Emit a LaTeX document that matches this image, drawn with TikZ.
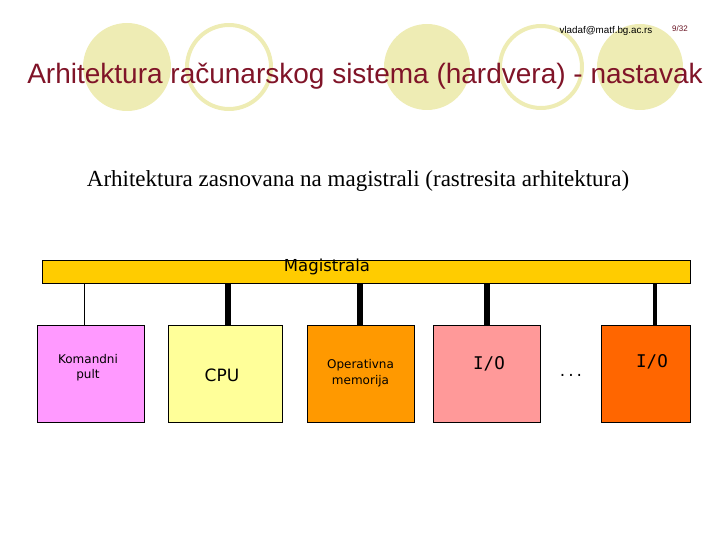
\documentclass[tikz,border=0pt]{standalone}
\usepackage{fontspec}
\setmainfont{Liberation Serif}
\setsansfont{Liberation Sans}
\newfontfamily\verdana{DejaVu Sans}
\newfontfamily\verdanamono{DejaVu Sans Mono}

\definecolor{dotyellow}{RGB}{238,236,180}
\definecolor{titlered}{RGB}{128,20,40}
\definecolor{busyellow}{RGB}{255,204,0}
\definecolor{pultpink}{RGB}{255,153,255}
\definecolor{cpuyellow}{RGB}{255,255,153}
\definecolor{memorange}{RGB}{255,153,0}
\definecolor{iorose}{RGB}{255,153,153}
\definecolor{iored}{RGB}{255,102,0}

\tikzset{
  unit/.style={draw=black,line width=0.8pt,minimum height=97pt,inner sep=0pt,font=\verdana},
  thinlink/.style={draw=black,line width=1pt},
  thicklink/.style={draw=black,line width=6pt},
}

\begin{document}
\begin{tikzpicture}
  [x=1pt,y=-1pt]
  \useasboundingbox (0,0) rectangle (720,540);

  % background dots
  \fill[dotyellow] (127,67) circle (44);
  \draw[dotyellow,line width=4pt] (229,67) circle (42);
  \fill[dotyellow] (427,67) circle (43);
  \draw[dotyellow,line width=4pt] (541,67) circle (41);
  \fill[dotyellow] (640,67) circle (43);

  \node (mail) at (606,31) {\sffamily\fontsize{9.8}{11}\selectfont vladaf@matf.bg.ac.rs};
  \node (page) at (680,29) {\sffamily\fontsize{8}{9}\selectfont\color{titlered!80!black}9/32};

  \node (title) at (365,76) {\sffamily\fontsize{28}{32}\selectfont\color{titlered}Arhitektura računarskog sistema (hardvera) - nastavak};
  \node (sub) at (358,181) {\fontsize{23}{26}\selectfont Arhitektura zasnovana na magistrali (rastresita arhitektura)};

  % bus
  \node[draw=black,line width=0.8pt,fill=busyellow,minimum width=648pt,minimum height=23pt,inner sep=0pt] (bus) at (366,271.5) {};
  \node[font=\verdana\fontsize{16.5}{18}\selectfont] (magtext) at (327,267) {Magistrala};

  % units
  \node[unit,fill=pultpink,minimum width=107pt] (pult) at (90.5,373.5) {};
  \node[font=\verdana\fontsize{12}{15}\selectfont,align=center] (pulttext) at (88,368) {Komandni\\pult};
  \node[unit,fill=cpuyellow,minimum width=114pt] (cpu) at (225,373.5) {};
  \node[font=\verdana\fontsize{17}{19}\selectfont] (cputext) at (222,375) {CPU};
  \node[unit,fill=memorange,minimum width=107pt,font=\verdana\fontsize{12}{16}\selectfont,align=center] (mem) at (360.5,373.5) {Operativna\\memorija};
  \node[unit,fill=iorose,minimum width=107pt] (io1) at (486.5,373.5) {};
  \node[font=\verdanamono\fontsize{17.5}{19}\selectfont] (io1text) at (489,364) {I/O};
  \node[font=\verdanamono\fontsize{14}{16}\selectfont] (dots) at (571,375) {...};
  \node[unit,fill=iored,minimum width=89pt] (io2) at (645.5,373.5) {};
  \node[font=\verdanamono\fontsize{17.5}{19}\selectfont] (io2text) at (652,362) {I/O};

  % links to the bus
  \coordinate (pultx) at (84,0);
  \coordinate (cpux) at (228,0);
  \coordinate (memx) at (360,0);
  \coordinate (io1x) at (487,0);
  \coordinate (io2x) at (655,0);
  \draw[thinlink] (bus.south -| pultx) -- (pult.north -| pultx);
  \draw[thicklink] (bus.south -| cpux) -- (cpu.north -| cpux);
  \draw[thicklink] (bus.south -| memx) -- (mem.north -| memx);
  \draw[thicklink] (bus.south -| io1x) -- (io1.north -| io1x);
  \draw[thicklink,line width=4.5pt] (bus.south -| io2x) -- (io2.north -| io2x);

\end{tikzpicture}
\end{document}
